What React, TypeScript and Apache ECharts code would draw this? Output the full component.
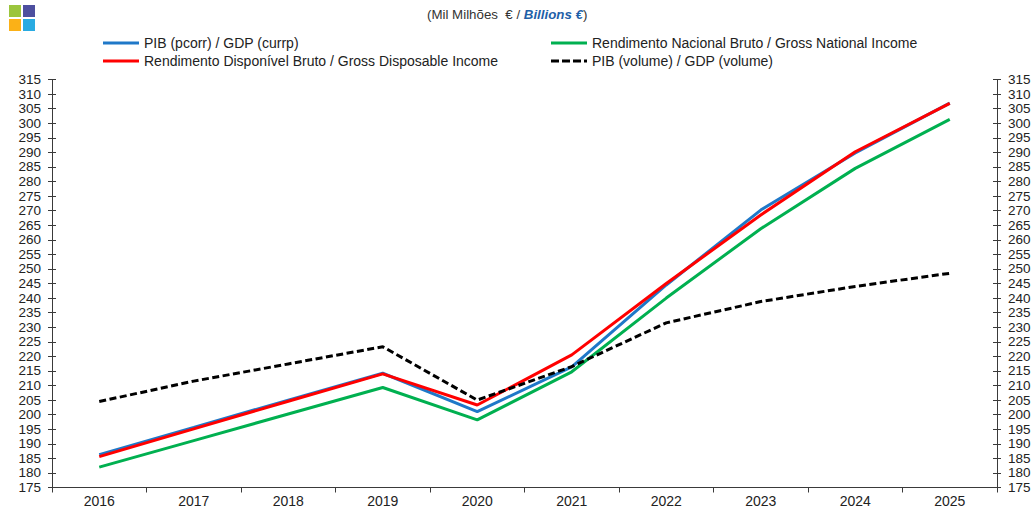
import React, { useEffect, useRef } from "react";
import * as echarts from "echarts";

const years = ["2016", "2017", "2018", "2019", "2020", "2021", "2022", "2023", "2024", "2025"];
const gdpCurrent = [186.3, 195.6, 205.0, 214.2, 201.0, 216.4, 244.5, 270.2, 289.8, 306.9];
const gdi = [185.6, 195.1, 204.6, 214.0, 203.3, 220.5, 245.0, 268.5, 290.2, 306.8];
const gni = [182.0, 191.1, 200.2, 209.3, 198.2, 214.7, 240.0, 263.8, 284.5, 301.3];
const gdpVolume = [204.5, 211.5, 217.4, 223.3, 205.0, 216.5, 231.5, 238.8, 244.0, 248.5];

const names = {
  gdpCurrent: "PIB (pcorr) / GDP (currp)",
  gdi: "Rendimento Disponível Bruto / Gross Disposable Income",
  gni: "Rendimento Nacional Bruto / Gross National Income",
  gdpVolume: "PIB (volume) / GDP (volume)",
};

const FONT = "'Liberation Sans', Arial, sans-serif";
const AXIS_COLOR = "#3a3a3a";
const SOLID_ICON = "path://M0,0h36v3h-36z";
const DASH_ICON = "path://M0,0h8v3h-8z M11,0h8v3h-8z M22,0h8v3h-8z M33,0h3v3h-3z";

export default function App() {
  const ref = useRef<HTMLDivElement>(null);
  useEffect(() => {
    if (!ref.current) return;
    const chart = echarts.init(ref.current, null, { renderer: "svg" });
    const yBase = { type: "value", min: 175, max: 315, interval: 5, splitLine: { show: false } };
    const legendBase = {
      orient: "vertical",
      top: 36,
      padding: 0,
      itemWidth: 36,
      itemHeight: 3,
      itemGap: 4,
      textStyle: { fontFamily: FONT, fontSize: 14, color: "#222" },
    };
    chart.setOption({
      animation: false,
      textStyle: { fontFamily: FONT },
      graphic: [
        { type: "rect", shape: { x: 9, y: 5, width: 12, height: 12 }, style: { fill: "#9bc53d" } },
        { type: "rect", shape: { x: 23, y: 5, width: 12, height: 12 }, style: { fill: "#4d4f9f" } },
        { type: "rect", shape: { x: 9, y: 19, width: 12, height: 12 }, style: { fill: "#fbb117" } },
        { type: "rect", shape: { x: 23, y: 19, width: 12, height: 12 }, style: { fill: "#29abe2" } },
        {
          type: "text",
          left: 427,
          top: 8,
          style: {
            text: "{a|(Mil Milhões  € / }{b|Billions €}{a|)}",
            rich: {
              a: { fontFamily: FONT, fontSize: 13.3, fill: "#333" },
              b: { fontFamily: FONT, fontSize: 13.3, fill: "#1f5fa8", fontWeight: "bold", fontStyle: "italic" },
            },
          },
        },
      ],
      legend: [
        {
          ...legendBase,
          left: 103,
          data: [
            { name: names.gdpCurrent, icon: SOLID_ICON },
            { name: names.gdi, icon: SOLID_ICON },
          ],
        },
        {
          ...legendBase,
          left: 551,
          data: [
            { name: names.gni, icon: SOLID_ICON },
            { name: names.gdpVolume, icon: DASH_ICON },
          ],
        },
      ],
      grid: { left: 52, right: 38, top: 79.5, bottom: 22.5 },
      xAxis: {
        type: "category",
        data: years,
        boundaryGap: true,
        axisLine: { lineStyle: { color: AXIS_COLOR, width: 1 } },
        axisTick: { show: true, length: 5, lineStyle: { color: AXIS_COLOR } },
        axisLabel: { fontFamily: FONT, fontSize: 14, color: "#222", margin: 6 },
      },
      yAxis: [
        {
          ...yBase,
          position: "left",
          axisLine: { show: true, lineStyle: { color: AXIS_COLOR } },
          axisTick: { show: true, length: 4, lineStyle: { color: AXIS_COLOR } },
          axisLabel: { fontFamily: FONT, fontSize: 13.5, color: "#222", margin: 11 },
        },
        {
          ...yBase,
          position: "right",
          axisLine: { show: true, lineStyle: { color: AXIS_COLOR } },
          axisTick: { show: true, length: 4, lineStyle: { color: AXIS_COLOR } },
          axisLabel: { fontFamily: FONT, fontSize: 13.5, color: "#222", margin: 11 },
        },
        {
          ...yBase,
          position: "left",
          axisLine: { show: false },
          axisTick: { show: true, inside: true, length: 4, lineStyle: { color: AXIS_COLOR } },
          axisLabel: { show: false },
        },
        {
          ...yBase,
          position: "right",
          axisLine: { show: false },
          axisTick: { show: true, inside: true, length: 4, lineStyle: { color: AXIS_COLOR } },
          axisLabel: { show: false },
        },
      ],
      series: [
        {
          name: names.gni,
          type: "line",
          data: gni,
          symbol: "none",
          lineStyle: { color: "#00b050", width: 3 },
          itemStyle: { color: "#00b050" },
        },
        {
          name: names.gdpCurrent,
          type: "line",
          data: gdpCurrent,
          symbol: "none",
          lineStyle: { color: "#1f78c8", width: 3 },
          itemStyle: { color: "#1f78c8" },
        },
        {
          name: names.gdi,
          type: "line",
          data: gdi,
          symbol: "none",
          lineStyle: { color: "#ff0000", width: 3 },
          itemStyle: { color: "#ff0000" },
        },
        {
          name: names.gdpVolume,
          type: "line",
          data: gdpVolume,
          symbol: "none",
          lineStyle: { color: "#000000", width: 3, type: [7, 3.5] },
          itemStyle: { color: "#000000" },
        },
      ],
    });
    return () => chart.dispose();
  }, []);
  return (
    <div
      ref={ref}
      style={{ position: "fixed", left: 0, top: 0, width: 1035, height: 510, background: "#fff" }}
    />
  );
}
